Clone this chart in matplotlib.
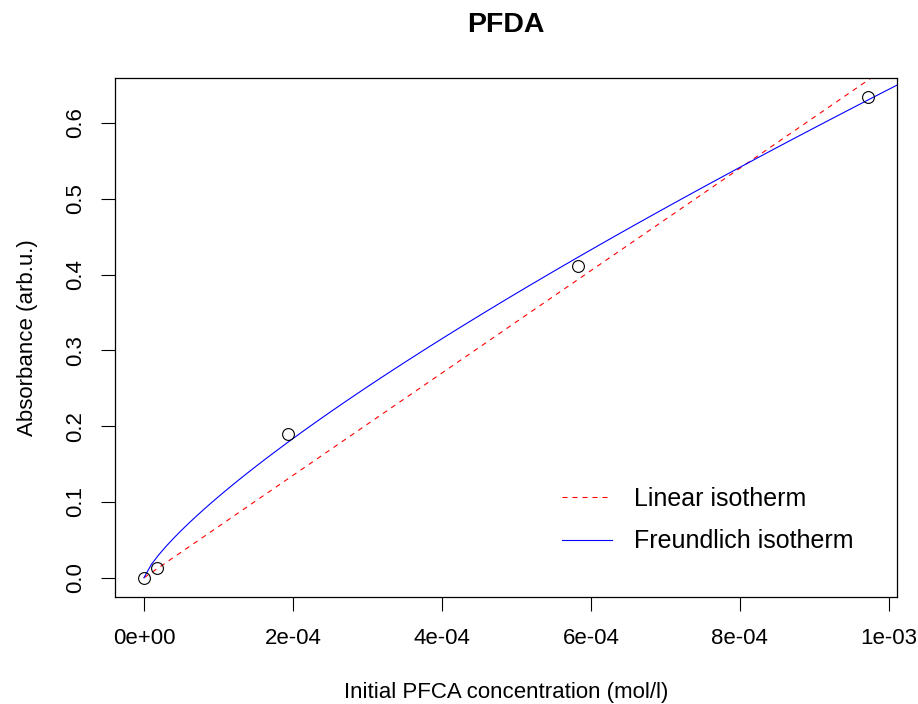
import numpy as np
import matplotlib
matplotlib.use("Agg")
import matplotlib.pyplot as plt

plt.rcParams['font.family'] = ['Liberation Sans', 'DejaVu Sans']

# measured points: initial PFCA concentration (mol/l) vs absorbance
conc = np.array([0.0, 1.75e-5, 1.94e-4, 5.82e-4, 9.72e-4])
absorb = np.array([0.0, 0.013, 0.190, 0.411, 0.634])

# isotherm parameters
k_lin = np.sum(conc * absorb) / np.sum(conc ** 2)   # linear, through origin
k_fr = 141.0                                          # Freundlich K
n_fr = 0.78                                           # Freundlich exponent

x_ticks = [0, 2e-4, 4e-4, 6e-4, 8e-4, 1e-3]
x_ticklabels = ["0e+00", "2e-04", "4e-04", "6e-04", "8e-04", "1e-03"]
y_ticks = [0.0, 0.1, 0.2, 0.3, 0.4, 0.5, 0.6]
y_ticklabels = ["0.0", "0.1", "0.2", "0.3", "0.4", "0.5", "0.6"]

fig = plt.figure(figsize=(9.18, 7.04), dpi=100)
ax = fig.add_axes([115 / 918, 1 - 597 / 704, (897 - 115) / 918, (597 - 78) / 704])

# R-style 4% padding around the data range
xr = conc.max() - conc.min()
yr = absorb.max() - absorb.min()
xlo, xhi = conc.min() - 0.04 * xr, conc.max() + 0.04 * xr
ylo, yhi = absorb.min() - 0.04 * yr, absorb.max() + 0.04 * yr
ax.set_xlim(xlo, xhi)
ax.set_ylim(ylo, yhi)

ax.plot(conc, absorb, 'o', mfc='none', mec='black', ms=8.5, mew=0.8, zorder=3)

xs = np.linspace(0, xhi, 101)
ax.plot(xs, k_lin * xs, color='red', lw=0.8, linestyle=(0, (4.5, 4.5)),
        label='Linear isotherm')
ax.plot(xs, k_fr * xs ** n_fr, color='blue', lw=0.8,
        label='Freundlich isotherm')

ax.set_xticks(x_ticks)
ax.set_xticklabels(x_ticklabels)
ax.set_yticks(y_ticks)
ax.set_yticklabels(y_ticklabels, rotation=90, va='center')
ax.tick_params(axis='both', direction='out', length=10, width=0.8,
               labelsize=16)
ax.tick_params(axis='x', pad=12)
ax.tick_params(axis='y', pad=11)
for s in ax.spines.values():
    s.set_linewidth(0.9)

ax.set_xlabel('Initial PFCA concentration (mol/l)', fontsize=16, labelpad=24)
ax.set_ylabel('Absorbance (arb.u.)', fontsize=16, labelpad=19)
fig.text(506 / 918, 1 - 25 / 704, 'PFDA', fontsize=20.5, fontweight='bold',
         ha='center', va='center')

ax.legend(frameon=False, fontsize=18, handlelength=2.0, handletextpad=0.9,
          labelspacing=0.75, loc='lower right',
          bbox_to_anchor=(876 / 918, 128 / 704),
          bbox_transform=fig.transFigure)

fig.savefig('out.png', dpi=100)
